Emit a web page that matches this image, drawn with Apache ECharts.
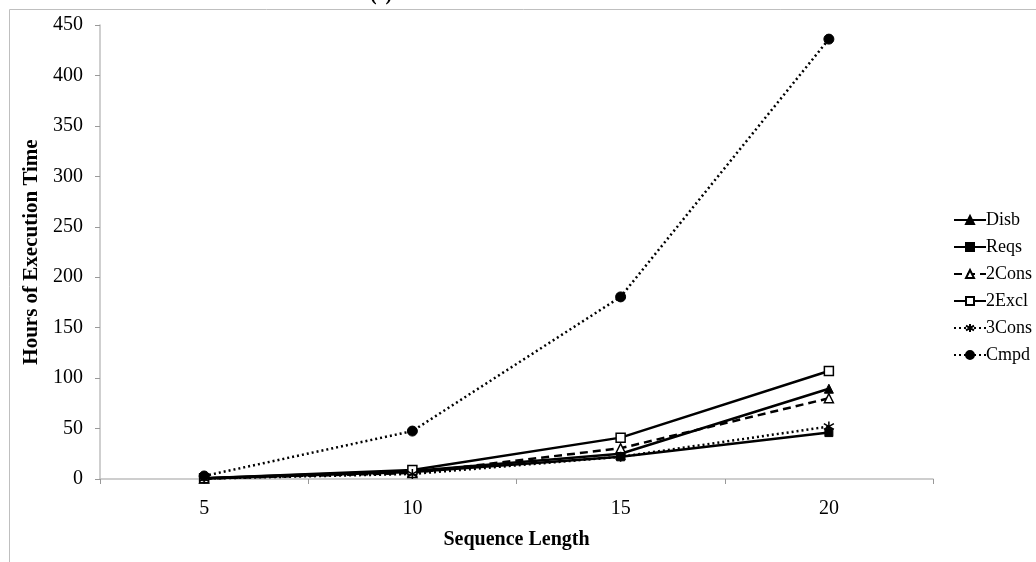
<!DOCTYPE html>
<html>
<head>
<meta charset="utf-8">
<script src="https://cdn.jsdelivr.net/npm/echarts@6/dist/echarts.min.js"></script>
<style>html,body{margin:0;padding:0;background:#fff;}#c{width:1036px;height:562px;}</style>
</head>
<body>
<div id="c"></div>
<script>
var categories = ['5', '10', '15', '20'];
var disb  = [0.8, 8, 25, 89.5];
var reqs  = [0.6, 7, 22, 46];
var cons2 = [0.5, 6, 30.5, 80];
var excl2 = [0.7, 9, 41, 107];
var cons3 = [0.4, 5, 22, 52];
var cmpd  = [3, 47.5, 180.5, 436];
var yTicks = [0, 50, 100, 150, 200, 250, 300, 350, 400, 450];

var serif = '"Liberation Serif", "Times New Roman", serif';
var chart = echarts.init(document.getElementById('c'), null, {renderer: 'canvas'});
var asterisk = 'path://M0,-6L0,6M-5,-3.5L5,3.5M-5,3.5L5,-3.5';
function mk(name, data, symbol, filled, lineType, size) {
  return {
    name: name, type: 'line', data: data, symbol: symbol, symbolSize: size || 9,
    showAllSymbol: true, animation: false,
    lineStyle: {color: '#000', width: 2.5, type: lineType},
    itemStyle: filled ? {color: '#000', borderColor: '#000', borderWidth: 1}
                      : {color: '#fff', borderColor: '#000', borderWidth: 1.5}
  };
}
var series = [
  mk('Disb', disb, 'triangle', true, 'solid'),
  mk('Reqs', reqs, 'rect', true, 'solid', 8),
  mk('2Cons', cons2, 'triangle', false, [8, 5]),
  mk('2Excl', excl2, 'rect', false, 'solid'),
  mk('3Cons', cons3, asterisk, true, [2, 3], 10),
  mk('Cmpd', cmpd, 'circle', true, [2, 3], 10)
];
series[4].itemStyle = {color: 'none', borderColor: '#000', borderWidth: 1.5};
chart.setOption({
  animation: false,
  backgroundColor: '#fff',
  graphic: [
    {type: 'rect', shape: {x: 9.5, y: 9.5, width: 1200, height: 700}, style: {fill: 'none', stroke: '#bfbfbf', lineWidth: 1}, silent: true},
    {type: 'text', style: {text: '(c)', x: 381, y: 5, textAlign: 'center', textVerticalAlign: 'bottom', font: 'bold 20px ' + serif, fill: '#000'}}
  ],
  grid: {left: 100, right: 103, top: 25, bottom: 83},
  legend: {
    orient: 'vertical', left: 948, top: 206, itemWidth: 32, itemHeight: 10, itemGap: 9,
    textStyle: {fontFamily: serif, fontSize: 18, color: '#000', padding: [0, 0, 0, -5]},
    data: series.map(function (s) { return s.name; })
  },
  xAxis: {
    type: 'category', data: categories, boundaryGap: true,
    name: 'Sequence Length', nameLocation: 'middle', nameGap: 51,
    nameTextStyle: {fontFamily: serif, fontSize: 20, fontWeight: 'bold', color: '#000'},
    axisLine: {lineStyle: {color: '#bfbfbf', width: 1.5}},
    axisTick: {show: true, length: 5, lineStyle: {color: '#999'}},
    axisLabel: {fontFamily: serif, fontSize: 20, color: '#000', margin: 20},
    splitLine: {show: false}
  },
  yAxis: {
    type: 'value', min: yTicks[0], max: yTicks[yTicks.length - 1], interval: 50,
    name: 'Hours of Execution Time', nameLocation: 'middle', nameGap: 54,
    nameTextStyle: {fontFamily: serif, fontSize: 21, fontWeight: 'bold', color: '#000'},
    axisLine: {show: true, lineStyle: {color: '#bfbfbf', width: 1.5}},
    axisTick: {show: true, length: 5, lineStyle: {color: '#999'}},
    axisLabel: {fontFamily: serif, fontSize: 20, color: '#000', margin: 17},
    splitLine: {show: false}
  },
  series: series
});
</script>
</body>
</html>
